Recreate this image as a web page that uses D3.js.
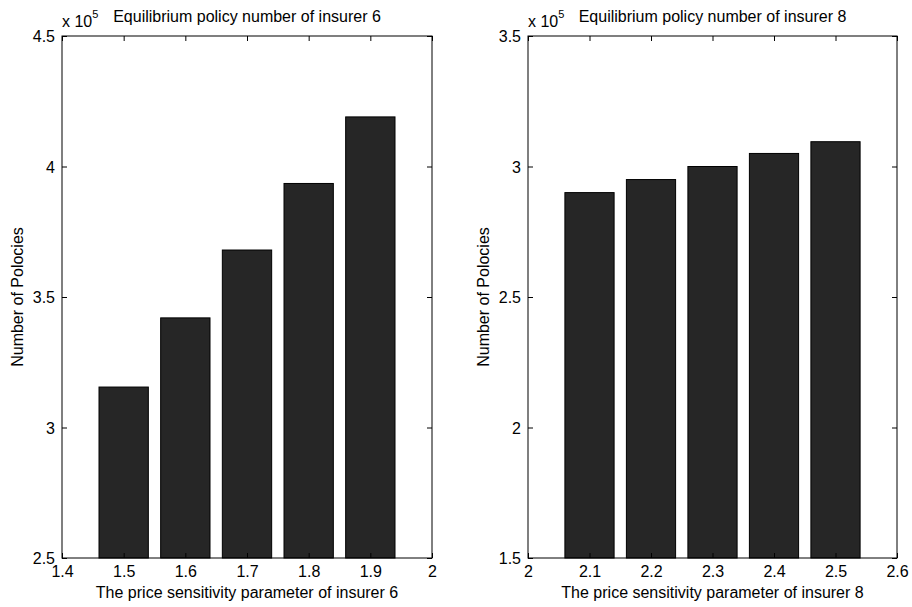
<!DOCTYPE html>
<html>
<head>
<meta charset="utf-8">
<script src="https://cdn.jsdelivr.net/npm/d3@7"></script>
<style>
html,body{margin:0;padding:0;background:#fff;}
svg{display:block;font-family:"Liberation Sans",Arial,Helvetica,sans-serif;}
</style>
</head>
<body>
<svg id="chart" width="912" height="607"></svg>
<script>
// Panel 1: insurer 6
const params6 = [1.5, 1.6, 1.7, 1.8, 1.9];
const policies6 = [3.155, 3.42, 3.68, 3.935, 4.19]; // x 10^5
const xTicks6 = [1.4, 1.5, 1.6, 1.7, 1.8, 1.9, 2];
const yTicks6 = [2.5, 3, 3.5, 4, 4.5];
const title6 = "Equilibrium policy number of insurer 6";
const xLabel6 = "The price sensitivity parameter of insurer 6";

// Panel 2: insurer 8
const params8 = [2.1, 2.2, 2.3, 2.4, 2.5];
const policies8 = [2.9, 2.95, 3.0, 3.05, 3.095]; // x 10^5
const xTicks8 = [2, 2.1, 2.2, 2.3, 2.4, 2.5, 2.6];
const yTicks8 = [1.5, 2, 2.5, 3, 3.5];
const title8 = "Equilibrium policy number of insurer 8";
const xLabel8 = "The price sensitivity parameter of insurer 8";

const yLabel = "Number of Polocies";

const svg = d3.select("#chart");

function panel(cfg) {
  const {left, right, top, bottom, xs, ys, xTicks, yTicks, title, xLabel} = cfg;
  const x = d3.scaleLinear().domain([xTicks[0], xTicks[xTicks.length-1]]).range([left, right]);
  const y = d3.scaleLinear().domain([yTicks[0], yTicks[yTicks.length-1]]).range([bottom, top]);
  const g = svg.append("g");
  const barW = 0.8 * (xs[1] - xs[0]);

  g.selectAll("rect.bar").data(xs.map((v, i) => ({x: v, y: ys[i]})))
    .enter().append("rect")
    .attr("class", "bar")
    .attr("x", d => x(d.x - barW/2))
    .attr("width", d => x(d.x + barW/2) - x(d.x - barW/2))
    .attr("y", d => y(d.y))
    .attr("height", d => y(yTicks[0]) - y(d.y))
    .attr("fill", "#262626")
    .attr("stroke", "#000")
    .attr("stroke-width", 1);

  const fmt = d => String(d);
  const tl = 5;
  // bottom axis
  const ax = g.append("g").attr("transform", `translate(0,${bottom})`)
    .call(d3.axisBottom(x).tickValues(xTicks).tickFormat(fmt).tickSizeInner(-tl).tickSizeOuter(0).tickPadding(8));
  // top axis (ticks only)
  const axT = g.append("g").attr("transform", `translate(0,${top})`)
    .call(d3.axisTop(x).tickValues(xTicks).tickFormat("").tickSizeInner(-tl).tickSizeOuter(0));
  // left axis
  const ay = g.append("g").attr("transform", `translate(${left},0)`)
    .call(d3.axisLeft(y).tickValues(yTicks).tickFormat(fmt).tickSizeInner(-tl).tickSizeOuter(0).tickPadding(7));
  const ayR = g.append("g").attr("transform", `translate(${right},0)`)
    .call(d3.axisRight(y).tickValues(yTicks).tickFormat("").tickSizeInner(-tl).tickSizeOuter(0));

  [ax, axT, ay, ayR].forEach(a => {
    a.selectAll(".domain").remove();
    a.selectAll("line").attr("stroke", "#000").attr("stroke-width", 1);
    a.selectAll("text").attr("font-size", 16).attr("fill", "#000")
      .attr("font-family", '"Liberation Sans",Arial,sans-serif');
  });
  ay.selectAll("text").attr("dy", "0.35em");
  ax.selectAll("text").attr("dy", "0.71em");

  // frame
  g.append("rect").attr("x", left).attr("y", top)
    .attr("width", right - left).attr("height", bottom - top)
    .attr("fill", "none").attr("stroke", "#000").attr("stroke-width", 1);

  // title
  g.append("text").attr("x", (left + right)/2).attr("y", 22)
    .attr("text-anchor", "middle").attr("font-size", 16).text(title);
  // exponent
  const ex = g.append("text").attr("x", left).attr("y", 27).attr("font-size", 16);
  ex.append("tspan").text("x 10");
  ex.append("tspan").attr("font-size", 11).attr("dy", -9).text("5");

  // x label
  g.append("text").attr("x", (left + right)/2).attr("y", 598)
    .attr("text-anchor", "middle").attr("font-size", 16).text(xLabel);
  // y label
  g.append("text")
    .attr("transform", `translate(${cfg.yLabelX},${(top + bottom)/2}) rotate(-90)`)
    .attr("text-anchor", "middle").attr("font-size", 16).text(yLabel);
}

panel({left: 62, right: 432, top: 36, bottom: 558, xs: params6, ys: policies6,
  xTicks: xTicks6, yTicks: yTicks6, title: title6, xLabel: xLabel6, yLabelX: 23});
panel({left: 528, right: 897, top: 36, bottom: 558, xs: params8, ys: policies8,
  xTicks: xTicks8, yTicks: yTicks8, title: title8, xLabel: xLabel8, yLabelX: 489});
</script>
</body>
</html>
